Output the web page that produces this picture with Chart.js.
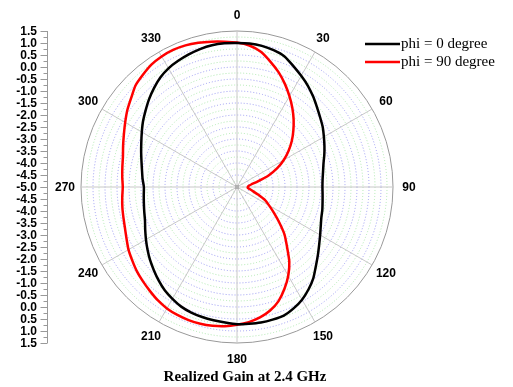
<!DOCTYPE html>
<html>
<head>
<meta charset="utf-8">
<script src="https://cdn.jsdelivr.net/npm/chart.js@4/dist/chart.umd.min.js"></script>
<style>
  html, body { margin: 0; padding: 0; background: #fff; }
  #wrap { width: 513px; height: 387px; }
</style>
</head>
<body>
<div id="wrap"><canvas id="gain" width="513" height="387"></canvas></div>
<script>
// ---- Data ----
// azimuth in degrees, 5 degree steps, 0 at top, clockwise
const angles = Array.from({length: 72}, (_, i) => String(i * 5));
const angleTickLabels = ['0','30','60','90','120','150','180','210','240','270','300','330'];
const radialTicks = [-5.0,-4.5,-4.0,-3.5,-3.0,-2.5,-2.0,-1.5,-1.0,-0.5,0.0,0.5,1.0,1.5];

const seriesNames = ['phi = 0 degree', 'phi = 90 degree'];
const seriesColors = ['#000000', '#ff0000'];

// realized gain (dB), phi = 0 cut
const gainPhi0 = [
  1.00, 1.00, 0.97, 0.90, 0.79, 0.56, 0.35, 0.15, -0.07, -0.29, -0.48, -0.64,
  -0.82, -0.98, -1.13, -1.27, -1.36, -1.42, -1.44, -1.42, -1.38, -1.32, -1.26, -1.15,
  -1.00, -0.82, -0.60, -0.35, -0.05, 0.20, 0.42, 0.58, 0.70, 0.72, 0.73, 0.72,
  0.72, 0.67, 0.64, 0.61, 0.57, 0.50, 0.38, 0.25, 0.08, -0.10, -0.27, -0.45,
  -0.62, -0.78, -0.92, -1.00, -1.06, -1.10, -1.12, -1.05, -0.98, -0.88, -0.75, -0.60,
  -0.42, -0.22, -0.03, 0.18, 0.38, 0.57, 0.71, 0.80, 0.88, 0.95, 1.00, 1.01
];

// realized gain (dB), phi = 90 cut
const gainPhi90 = [
  1.02, 0.92, 0.72, 0.40, 0.08, -0.27, -0.63, -0.98, -1.33, -1.68, -2.02, -2.38,
  -2.75, -3.15, -3.60, -4.10, -4.40, -4.52, -4.55, -4.55, -4.45, -4.30, -4.05, -3.72,
  -3.45, -3.12, -2.70, -2.20, -1.76, -1.20, -0.73, -0.32, 0.06, 0.33, 0.52, 0.65,
  0.74, 0.82, 0.87, 0.90, 0.90, 0.88, 0.84, 0.76, 0.65, 0.55, 0.45, 0.33,
  0.22, 0.08, -0.03, -0.10, -0.15, -0.20, -0.24, -0.20, -0.15, -0.08, 0.05, 0.20,
  0.38, 0.58, 0.76, 0.98, 1.10, 1.22, 1.28, 1.30, 1.28, 1.22, 1.15, 1.08
];

const titleText = 'Realized Gain at 2.4 GHz';

// ---- Extras: angle labels, dB ruler on the left, legend, caption ----
const polarExtras = {
  id: 'polarExtras',
  afterDraw(chart) {
    const ctx = chart.ctx;
    const r = chart.scales.r;
    ctx.save();

    // small marker at the pole
    ctx.fillStyle = '#b0b0b0';
    ctx.fillRect(r.xCenter - 2, r.yCenter - 2, 4, 4);

    // angle labels every 30 degrees
    ctx.fillStyle = '#000';
    ctx.font = 'bold 12px "Liberation Sans", Arial, sans-serif';
    ctx.textAlign = 'center';
    ctx.textBaseline = 'middle';
    angleTickLabels.forEach(lbl => {
      const idx = angles.indexOf(lbl);
      const p = r.getPointPosition(idx, r.drawingArea + 16);
      ctx.fillText(lbl, p.x, p.y + 1);
    });

    // left ruler: radial value mirrored above and below the centre
    const axisX = 47.5;
    const yc = r.yCenter;
    const dTop = r.getDistanceFromCenterForValue(1.5);
    ctx.strokeStyle = '#999';
    ctx.lineWidth = 1;
    ctx.beginPath();
    ctx.moveTo(axisX, yc - dTop);
    ctx.lineTo(axisX, yc + dTop);
    ctx.stroke();
    for (let k = 0; k <= 26; k++) {
      const v = -5 + k * 0.25;
      const d = r.getDistanceFromCenterForValue(v);
      const len = k % 2 === 0 ? 7 : 4;
      for (const y of [yc - d, yc + d]) {
        const yy = Math.round(y) + 0.5;
        ctx.beginPath();
        ctx.moveTo(axisX - len, yy);
        ctx.lineTo(axisX, yy);
        ctx.stroke();
      }
    }
    ctx.textAlign = 'right';
    radialTicks.forEach(v => {
      const d = r.getDistanceFromCenterForValue(v);
      const txt = v.toFixed(1);
      ctx.fillText(txt, 37, yc - d + 1);
      if (v !== -5) ctx.fillText(txt, 37, yc + d + 1);
    });

    // legend
    ctx.textAlign = 'left';
    ctx.font = '15px "Liberation Serif", "Times New Roman", serif';
    chart.data.datasets.forEach((ds, i) => {
      const y = 44 + i * 18;
      ctx.strokeStyle = ds.borderColor;
      ctx.lineWidth = 2.5;
      ctx.beginPath();
      ctx.moveTo(365, y);
      ctx.lineTo(400, y);
      ctx.stroke();
      ctx.fillStyle = '#000';
      ctx.fillText(ds.label, 401, y);
    });

    // caption under the plot
    ctx.textAlign = 'center';
    ctx.font = 'bold 15px "Liberation Serif", "Times New Roman", serif';
    ctx.fillText(titleText, 245, 377);

    ctx.restore();
  }
};

new Chart(document.getElementById('gain'), {
  type: 'radar',
  data: {
    labels: angles,
    datasets: [
      { label: seriesNames[0], data: gainPhi0, borderColor: seriesColors[0] },
      { label: seriesNames[1], data: gainPhi90, borderColor: seriesColors[1] }
    ]
  },
  options: {
    responsive: false,
    animation: false,
    layout: { padding: { left: 81, top: 31, right: 120, bottom: 44 } },
    elements: {
      line: { borderWidth: 2.5, fill: false, tension: 0.2 },
      point: { radius: 0, hoverRadius: 0 }
    },
    plugins: {
      legend: { display: false },
      title: { display: false },
      tooltip: { enabled: false }
    },
    scales: {
      r: {
        min: -5,
        max: 1.5,
        startAngle: 0,
        ticks: { display: false, stepSize: 0.25 },
        pointLabels: { display: false },
        angleLines: {
          color: '#c8c8c8',
          lineWidth: c => (c.index % 6 === 0 ? 1 : 0)
        },
        grid: {
          circular: true,
          lineWidth: 1,
          color: c => {
            const v = c.tick.value;
            if (Math.abs(v - 1.5) < 1e-6) return '#999999';
            return Math.round(v * 4) % 2 === 0 ? '#9a9af2' : '#ade8ad';
          }
        },
        border: {
          dash: c => (Math.abs(c.tick.value - 1.5) < 1e-6 ? [] : [1, 2])
        }
      }
    }
  },
  plugins: [polarExtras]
});
</script>
</body>
</html>
